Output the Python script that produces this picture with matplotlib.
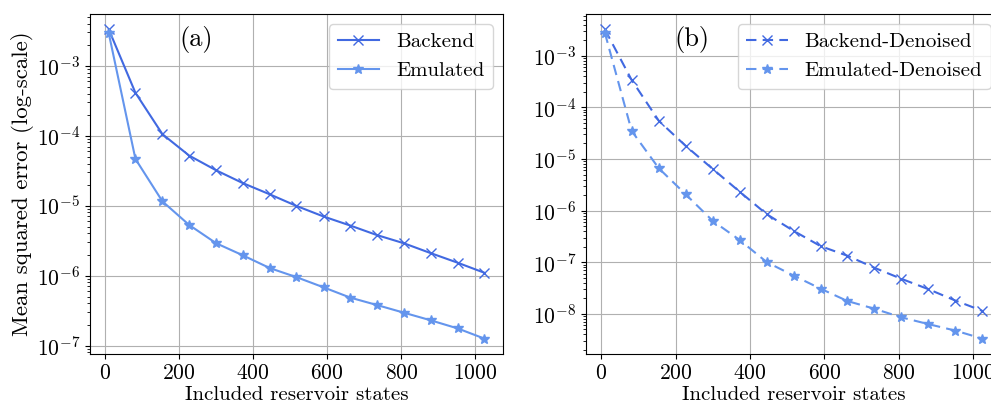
import matplotlib
matplotlib.use("Agg")
import matplotlib.pyplot as plt

plt.rcParams.update({
    "font.family": "serif",
    "font.serif": ["cmr10"],
    "mathtext.fontset": "cm",
    "axes.formatter.use_mathtext": True,
    "font.size": 15,
})

# Included reservoir states
states = [10, 82, 155, 227, 300, 372, 445, 517, 590, 662, 734, 807, 879, 952, 1024]

# (a) raw errors
backend = [3.3e-3, 4.1e-4, 1.05e-4, 5.2e-5, 3.2e-5, 2.1e-5, 1.45e-5, 9.9e-6,
           7.0e-6, 5.2e-6, 3.8e-6, 2.9e-6, 2.1e-6, 1.53e-6, 1.1e-6]
emulated = [2.9e-3, 4.65e-5, 1.15e-5, 5.3e-6, 2.9e-6, 1.95e-6, 1.28e-6, 9.5e-7,
            6.8e-7, 4.85e-7, 3.8e-7, 2.95e-7, 2.3e-7, 1.76e-7, 1.26e-7]

# (b) denoised errors
backend_dn = [3.25e-3, 3.4e-4, 5.5e-5, 1.8e-5, 6.4e-6, 2.33e-6, 8.5e-7, 4.05e-7,
              2.04e-7, 1.33e-7, 7.8e-8, 4.75e-8, 3.0e-8, 1.8e-8, 1.14e-8]
emulated_dn = [2.8e-3, 3.5e-5, 6.6e-6, 2.07e-6, 6.3e-7, 2.7e-7, 1.0e-7, 5.5e-8,
               3.05e-8, 1.76e-8, 1.25e-8, 8.5e-9, 6.3e-9, 4.7e-9, 3.3e-9]

fig = plt.figure(figsize=(9.91, 4.03), dpi=100)
W, H = 991, 403
ax1 = fig.add_axes([90 / W, 1 - 354 / H, 413 / W, 340 / H])
ax2 = fig.add_axes([586 / W, 1 - 354 / H, 415 / W, 340 / H])

ax1.plot(states, backend, color="royalblue", marker="x", markersize=7.5, label="Backend")
ax1.plot(states, emulated, color="cornflowerblue", marker="*", markersize=7.5, label="Emulated")
ax2.plot(states, backend_dn, color="royalblue", marker="x", markersize=7.5,
         linestyle="--", dashes=(5, 3), label="Backend-Denoised")
ax2.plot(states, emulated_dn, color="cornflowerblue", marker="*", markersize=7.5,
         linestyle="--", dashes=(5, 3), label="Emulated-Denoised")

for ax, tag in [(ax1, "(a)"), (ax2, "(b)")]:
    ax.set_yscale("log")
    ax.grid(True)
    ax.set_xlabel("Included reservoir states", fontsize=15, labelpad=2)
    ax.set_xticks([0, 200, 400, 600, 800, 1000])
    ax.tick_params(labelsize=15.5)
    ax.legend(loc="upper right", fontsize=15)
    ax.text(0.256, 0.925, tag, transform=ax.transAxes, fontsize=19, ha="center", va="center")

ax1.set_ylabel("Mean squared error (log-scale)", fontsize=16.5, labelpad=2)

fig.savefig("out.png", dpi=100)
